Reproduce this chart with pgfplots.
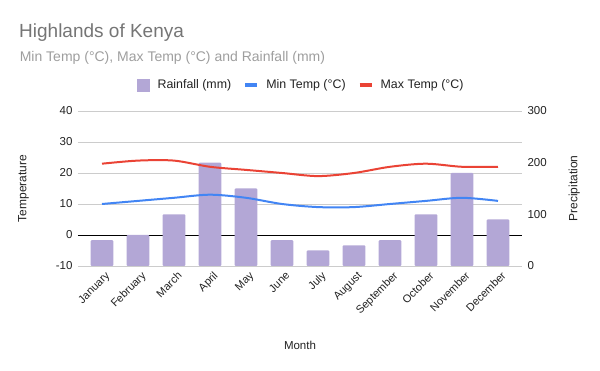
\documentclass[border=0pt]{standalone}
\usepackage{pgfplots}
\pgfplotsset{compat=1.18}
\usepackage{fontspec}
\setmainfont{Liberation Sans}
\definecolor{barcol}{HTML}{B3A7D6}
\definecolor{mincol}{HTML}{4285F4}
\definecolor{maxcol}{HTML}{EA4335}
\definecolor{gridcol}{HTML}{CCCCCC}
\definecolor{titlecol}{HTML}{757575}
\definecolor{subcol}{HTML}{9E9E9E}
\definecolor{txtcol}{HTML}{222222}
\pgfplotstableread{
x rain tmin tmax
0 50 10 23
1 60 11 24
2 100 12 24
3 200 13 22
4 150 12 21
5 50 10 20
6 30 9 19
7 40 9 20
8 50 10 22
9 100 11 23
10 180 12 22
11 90 11 22
}\data
\begin{document}
\begin{tikzpicture}[x=1pt,y=1pt]
\useasboundingbox (0,0) rectangle (600,371);
\node[anchor=base west, inner sep=0pt, text=titlecol, font=\fontsize{19}{22}\selectfont] at (19,333) {Highlands of Kenya};
\node[anchor=base west, inner sep=0pt, text=subcol, font=\fontsize{14}{16}\selectfont] at (19.6,309.5) {Min Temp (°C), Max Temp (°C) and Rainfall (mm)};
\pgfplotsset{
  common/.style={
    scale only axis, width=444pt, height=155pt,
    at={(78pt,105pt)}, anchor=south west,
    xmin=-0.667, xmax=11.667,
    xtick={0,...,11},
    major tick length=0pt,
    tick label style={font=\fontsize{11.5}{13}\selectfont, text=txtcol},
    /pgf/number format/assume math mode=true,
  }
}
% temperature axis with grid
\begin{axis}[common,
  ymin=-10, ymax=40, ytick={-10,0,...,40},
  ymajorgrids, grid style={gridcol, line width=0.8pt},
  axis line style={draw=none},
  extra y ticks={0}, extra y tick labels={},
  extra y tick style={grid style={black, line width=0.9pt}},
  xticklabels={January,February,March,April,May,June,July,August,September,October,November,December},
  xticklabel style={rotate=45, anchor=north east, font=\fontsize{11}{13}\selectfont, text=txtcol, xshift=2pt, yshift=-2pt},
  ylabel={Temperature}, ylabel style={font=\fontsize{12}{14}\selectfont, text=txtcol, yshift=20pt},
  xlabel={Month}, xlabel style={font=\fontsize{11.5}{14}\selectfont, text=txtcol, yshift=-17pt},
  yticklabel style={xshift=-2pt},
]
\addplot[draw=none] coordinates {(0,0)};
\end{axis}
% rainfall axis
\begin{axis}[common,
  ymin=0, ymax=300, ytick={0,100,200,300},
  axis y line*=right, axis x line=none,
  y axis line style={draw=none},
  xticklabels={},
  ylabel={Precipitation}, ylabel style={font=\fontsize{12}{14}\selectfont, text=txtcol, yshift=-15pt},
  yticklabel style={xshift=2pt},
]
\addplot[ybar, bar width=22.7pt, fill=barcol, draw=none, rounded corners=1pt] table[x=x, y=rain] {\data};
\end{axis}
% temperature lines
\begin{axis}[common,
  ymin=-10, ymax=40,
  axis lines=none,
  legend style={at={(0.503,1.168)}, anchor=center, draw=none, fill=none,
    font=\fontsize{12.4}{14}\selectfont, text=txtcol,
    /tikz/every even column/.append style={column sep=10pt}},
  legend columns=3,
]
\addlegendimage{legend image code/.code={\fill[barcol] (0pt,-6pt) rectangle (12pt,6pt); \path (18pt,0pt);}}
\addlegendentry{Rainfall (mm)}
\addplot[mincol, line width=2pt, smooth, tension=0.5, legend image code/.code={\draw[mincol, line width=4pt] (0pt,0pt) -- (12pt,0pt); \path (18pt,0pt);}] table[x=x, y=tmin] {\data};
\addlegendentry{Min Temp (°C)}
\addplot[maxcol, line width=2pt, smooth, tension=0.5, legend image code/.code={\draw[maxcol, line width=4pt] (0pt,0pt) -- (12pt,0pt); \path (18pt,0pt);}] table[x=x, y=tmax] {\data};
\addlegendentry{Max Temp (°C)}
\end{axis}
\end{tikzpicture}
\end{document}
